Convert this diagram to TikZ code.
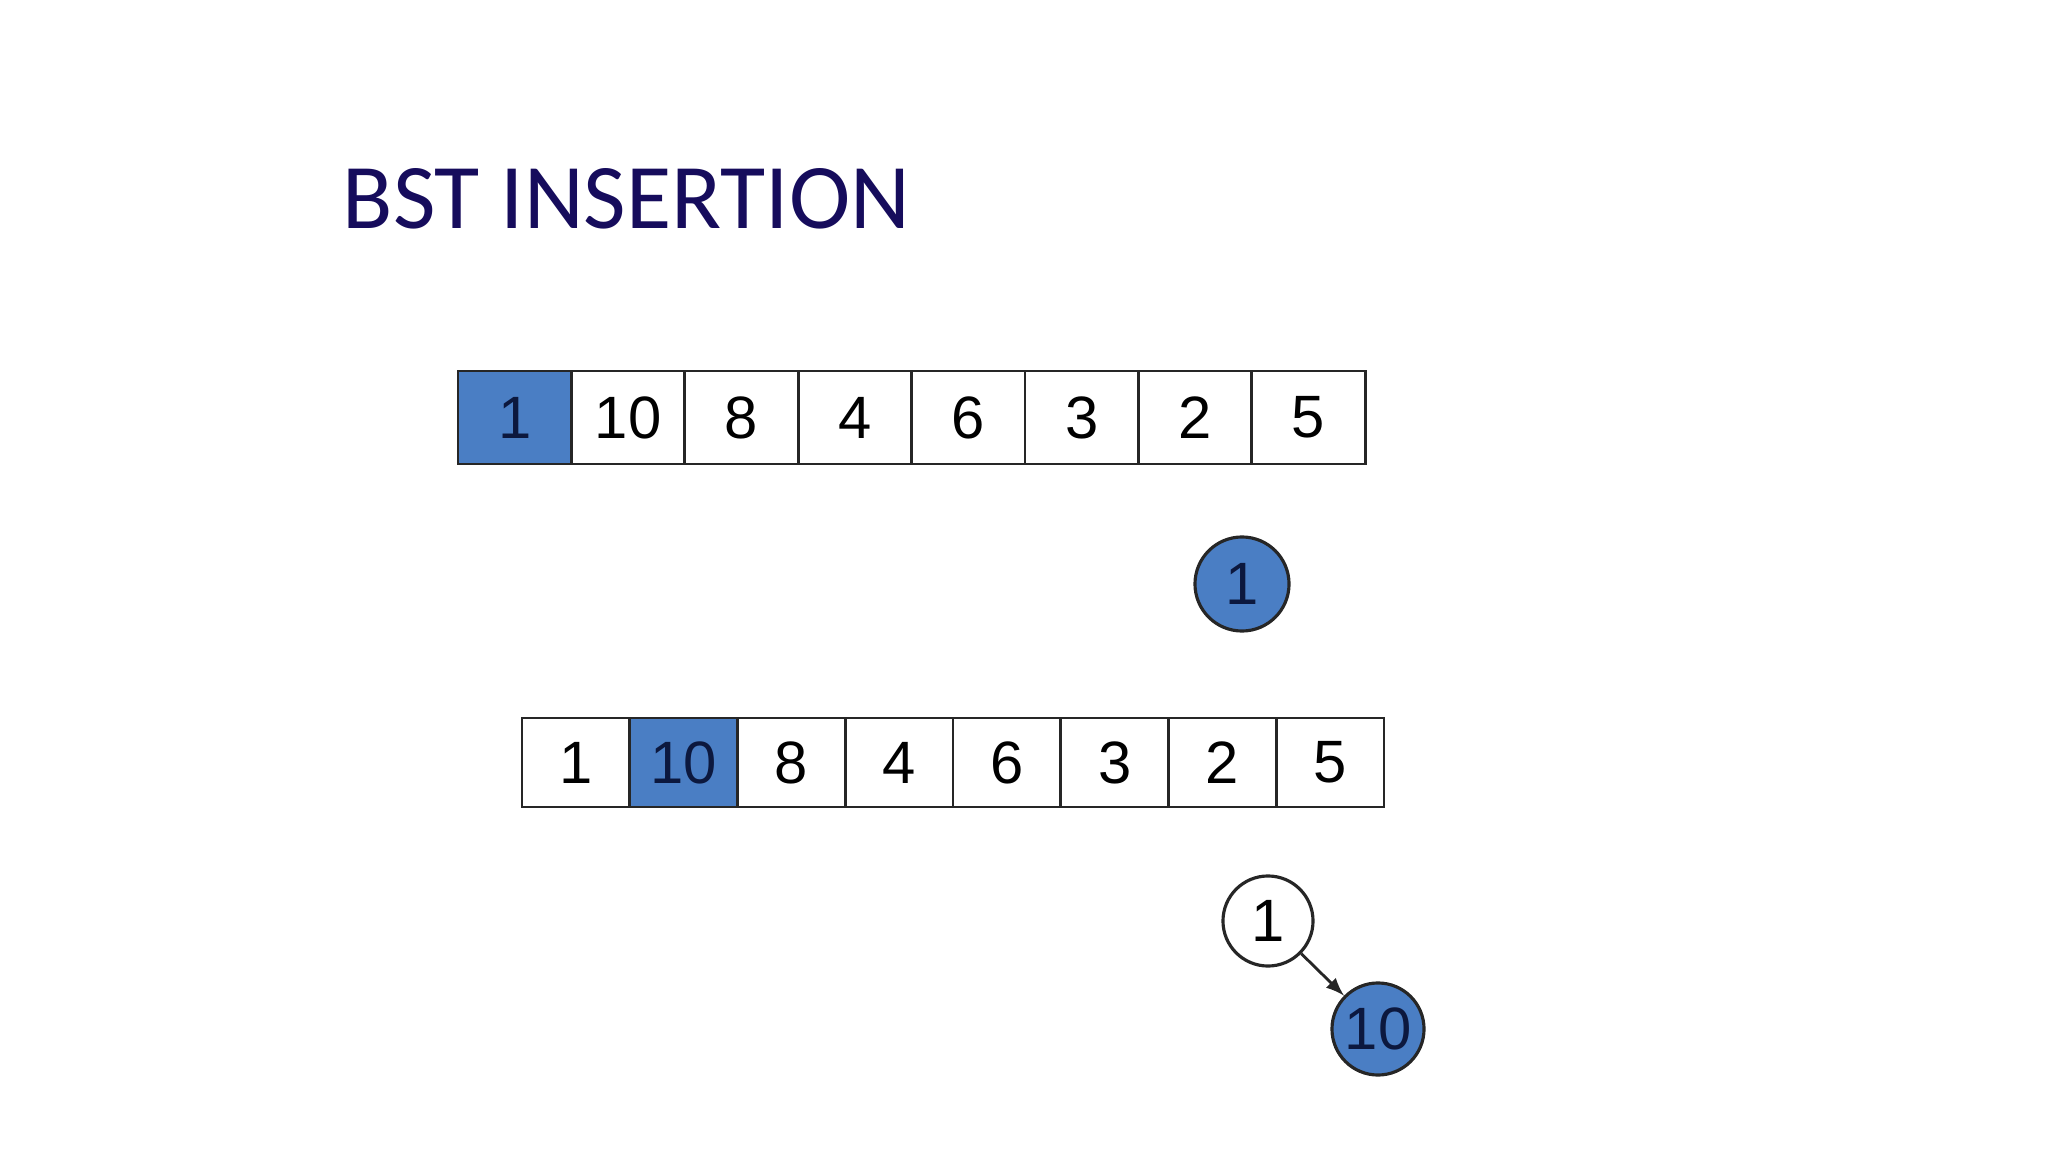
\documentclass[tikz,border=0pt]{standalone}
\usepackage{fontspec}
\usepackage{ifthen}
\setmainfont{Liberation Sans}
\newfontfamily\titlefont{Carlito}
\usetikzlibrary{positioning}

\definecolor{cellblue}{RGB}{74,126,196}
\definecolor{titlenavy}{RGB}{22,12,92}
\definecolor{digitnavy}{RGB}{12,24,62}

\tikzset{
  digits/.style={font=\fontsize{17}{20}\selectfont},
  cell/.style={draw=black!85,line width=0.8pt,digits,inner sep=0pt},
  bigcell/.style={cell,minimum width=1.134cm,minimum height=0.93cm},
  smallcell/.style={cell,minimum width=1.0775cm,minimum height=0.89cm},
  hot/.style={fill=cellblue,text=digitnavy},
  treenode/.style={draw=black!85,circle,line width=0.9pt,digits,inner sep=0pt}
}

\begin{document}
\begin{tikzpicture}[x=0.01cm,y=-0.01cm]
\useasboundingbox (0,0) rectangle (2048,1152);

\node[anchor=base west,inner sep=0pt,text=titlenavy,
      font=\titlefont\fontsize{26.3}{31}\selectfont] (title) at (342,229) {BST INSERTION};

% first pass: 1 is taken
\foreach \v [count=\i] in {1,10,8,4,6,3,2,5}
	{
	\ifthenelse{\i = 1}{
		\node[bigcell,hot] (a\i) at ({458+113.4*(\i-0.5)},417.5) {\v};
	}%else
	{
		\node[bigcell] (a\i) at ({458+113.4*(\i-0.5)},417.5) {\v};
	}
	}
\node[treenode,hot,minimum size=0.94cm] (r1) at (1242,584) {1};

% second pass: 10 is taken
\foreach \v [count=\i] in {1,10,8,4,6,3,2,5}
	{
	\ifthenelse{\i = 2}{
		\node[smallcell,hot] (b\i) at ({522+107.75*(\i-0.5)},762.5) {\v};
	}%else
	{
		\node[smallcell] (b\i) at ({522+107.75*(\i-0.5)},762.5) {\v};
	}
	}
\node[treenode,fill=white,minimum size=0.9cm] (s1) at (1268,921) {1};
\node[treenode,hot,minimum size=0.92cm] (s10) at (1378,1029) {10};

\draw[-latex,line width=0.8pt,black!85] (s1) -- (s10);
\end{tikzpicture}
\end{document}
